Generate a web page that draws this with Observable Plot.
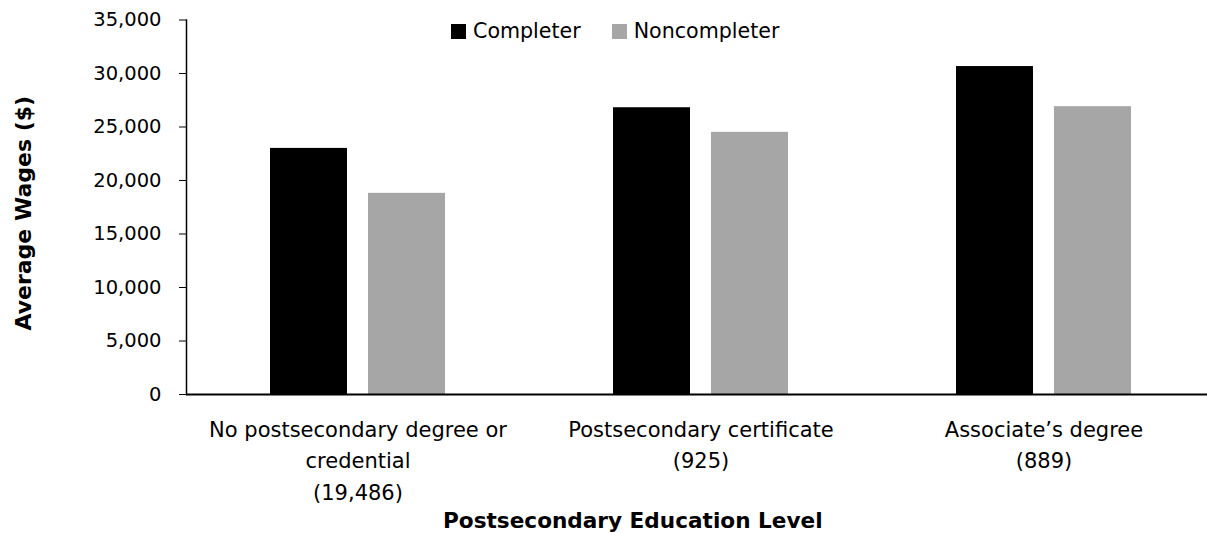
<!DOCTYPE html>
<html>
<head>
<meta charset="utf-8">
<script src="https://cdn.jsdelivr.net/npm/d3@7"></script>
<script src="https://cdn.jsdelivr.net/npm/@observablehq/plot@0.6"></script>
<style>
  html, body { margin: 0; padding: 0; background: #fff; }
  #wrap { position: relative; width: 1207px; height: 533px; font-family: "DejaVu Sans", sans-serif; color: #000; overflow: hidden; }
  #legend { position: absolute; top: 17px; left: 451px; display: flex; align-items: center; font-size: 20.6px; line-height: 28px; }
  #legend .sw { display: inline-block; width: 15px; height: 15px; margin-right: 7px; }
  #legend .item { display: flex; align-items: center; margin-right: 31px; }
  #xtitle { position: absolute; left: 443px; white-space: nowrap; top: 508px; font-size: 21.6px; font-weight: bold; line-height: 25px; }
</style>
</head>
<body>
<div id="wrap">
  <div id="chart"></div>
  <div id="legend"></div>
  <div id="xtitle"></div>
</div>
<script>
const categories = [
  "No postsecondary degree or\ncredential\n(19,486)",
  "Postsecondary certificate\n(925)",
  "Associate’s degree\n(889)"
];
const series = ["Completer", "Noncompleter"];
const completerValues = [23000, 26800, 30650];
const noncompleterValues = [18800, 24500, 26900];
const seriesColors = ["#000000", "#a6a6a6"];
const yTicks = [0, 5000, 10000, 15000, 20000, 25000, 30000, 35000];
const yTitle = "Average Wages ($)";
const xTitle = "Postsecondary Education Level";

const rows = [];
categories.forEach((c, i) => {
  rows.push({category: c, series: series[0], value: completerValues[i]});
  rows.push({category: c, series: series[1], value: noncompleterValues[i]});
});

const chart = Plot.plot({
  width: 1207,
  height: 533,
  marginLeft: 186,
  marginRight: 0,
  marginTop: 19.5,
  marginBottom: 139,
  style: {fontFamily: "DejaVu Sans, sans-serif", fontSize: "20px", color: "#000", background: "#fff"},
  x: {domain: categories, range: [186, 1215], padding: 0},
  y: {domain: [0, 35000]},
  color: {domain: series, range: seriesColors},
  marks: [
    Plot.barY(rows.filter(d => d.series === series[0]), {x: "category", y: "value", fill: "series", insetLeft: 84, insetRight: 182}),
    Plot.barY(rows.filter(d => d.series === series[1]), {x: "category", y: "value", fill: "series", insetLeft: 182, insetRight: 84}),
    Plot.axisY({ticks: yTicks, tickFormat: d3.format(","), tickSize: 7, tickPadding: 18, fontSize: 19.5,
      label: yTitle, labelAnchor: "center", labelArrow: "none", labelOffset: 171}),
    Plot.axisX({tickSize: 0, tickPadding: 20, lineHeight: 1.5, fontSize: 21, label: null}),
    Plot.frame({anchor: "left", stroke: "#000", strokeWidth: 1.5}),
    Plot.ruleY([0], {stroke: "#000", strokeWidth: 2})
  ]
});
document.getElementById("chart").appendChild(chart);

// bold y-axis label, nudged to the reference's centre
chart.querySelectorAll("text").forEach(t => {
  if (t.textContent.trim() === yTitle) {
    t.setAttribute("font-weight", "bold");
    t.setAttribute("font-size", "22");
    t.setAttribute("dx", "-6");
  }
});

const legend = document.getElementById("legend");
series.forEach((s, i) => {
  const item = document.createElement("div");
  item.className = "item";
  const sw = document.createElement("span");
  sw.className = "sw";
  sw.style.background = seriesColors[i];
  item.appendChild(sw);
  item.appendChild(document.createTextNode(s));
  legend.appendChild(item);
});
document.getElementById("xtitle").textContent = xTitle;
</script>
</body>
</html>
